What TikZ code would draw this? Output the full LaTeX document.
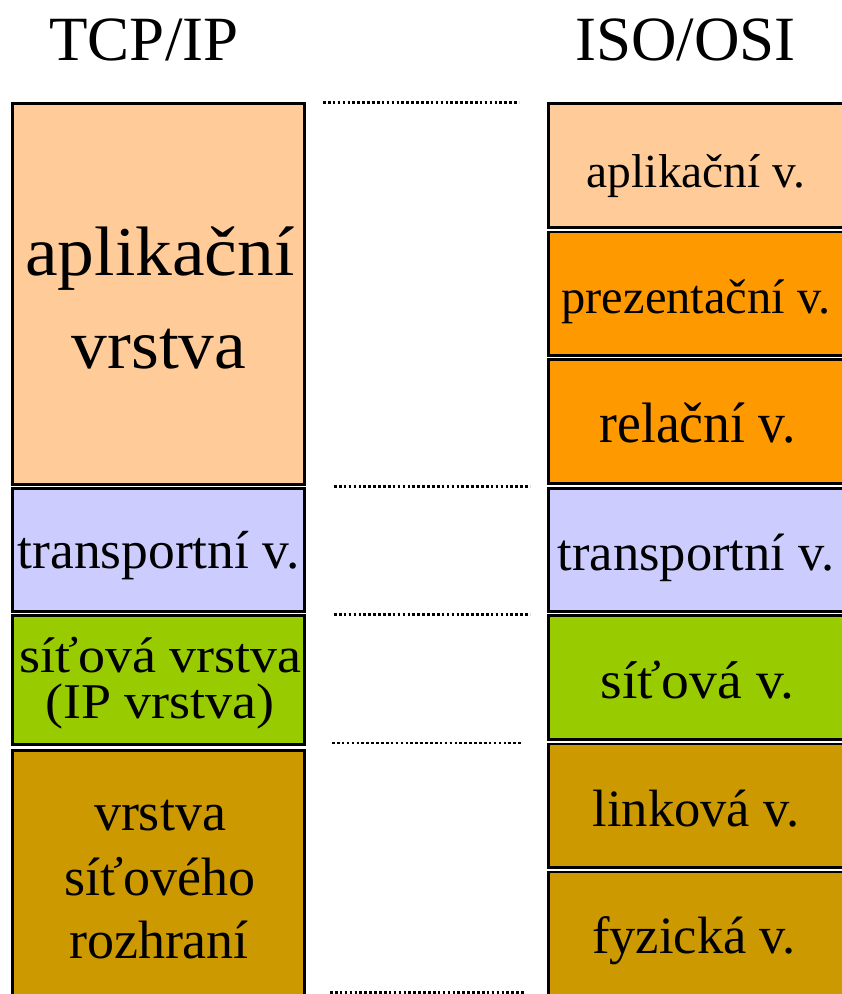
\documentclass[tikz,border=0pt]{standalone}
\usepackage{fontspec}
\setmainfont{Liberation Serif}
\usepackage{graphicx}
\definecolor{lorange}{HTML}{FFCC99}
\definecolor{dorange}{HTML}{FF9900}
\definecolor{lavend}{HTML}{CCCCFF}
\definecolor{lgreen}{HTML}{99CC00}
\definecolor{gold}{HTML}{CC9900}
\newcommand\lsize[1]{\fontsize{#1pt}{#1pt}\selectfont}
\tikzset{
  layer/.style={draw=black, line width=2.7pt, inner sep=0pt, outer sep=0pt},
  lbl/.style={anchor=base, inner sep=0pt, outer sep=0pt, text=black},
  sepline/.style={black, line width=2.6pt, dash pattern=on 2.6pt off 2.3pt}
}
\begin{document}
\begin{tikzpicture}[x=1pt,y=-1pt]
\useasboundingbox (0,0) rectangle (842,994);
\clip (0,0) rectangle (842,994);
% headings
\node[lbl] (hl) at (144,60) {\lsize{63}TCP/IP};
\node[lbl] (hr) at (685.5,60) {\lsize{63}ISO/OSI};
% left column (TCP/IP)
\node[layer, fill=lorange, minimum width=292.3pt, minimum height=381.3pt] (L1) at (158.5,294) {};
\node[layer, fill=lavend, minimum width=292.3pt, minimum height=122.8pt] (L2) at (158.5,549.75) {};
\node[layer, fill=lgreen, minimum width=292.3pt, minimum height=129.3pt] (L3) at (158.5,680) {};
\node[layer, fill=gold, minimum width=292.3pt, minimum height=260.3pt] (L4) at (158.5,880.5) {};
% right column (ISO/OSI)
\node[layer, fill=lorange, minimum width=300.3pt, minimum height=124.3pt] (R1) at (698.5,165.5) {};
\node[layer, fill=dorange, minimum width=300.3pt, minimum height=123.3pt] (R2) at (698.5,293.5) {};
\node[layer, fill=dorange, minimum width=300.3pt, minimum height=124.3pt] (R3) at (698.5,421.5) {};
\node[layer, fill=lavend, minimum width=300.3pt, minimum height=122.8pt] (R4) at (698.5,549.75) {};
\node[layer, fill=lgreen, minimum width=300.3pt, minimum height=124.3pt] (R5) at (698.5,677.5) {};
\node[layer, fill=gold, minimum width=300.3pt, minimum height=123.8pt] (R6) at (698.5,805.75) {};
\node[layer, fill=gold, minimum width=300.3pt, minimum height=138.8pt] (R7) at (698.5,941.25) {};
% left labels
\node[lbl] (L1a) at (160,275) {\lsize{70}\scalebox{1.05}[1]{aplikační}};
\node[lbl] (L1b) at (159,368) {\lsize{70}\scalebox{1.02}[1]{vrstva}};
\node[lbl] (L2a) at (158.5,568) {\lsize{53.5}transportní v.};
\node[lbl] (L3a) at (160.5,672) {\lsize{50}\scalebox{1.08}[1]{síťová vrstva}};
\node[lbl] (L3b) at (160,718) {\lsize{50}\scalebox{1.08}[1]{(IP vrstva)}};
\node[lbl] (L4a) at (160,830) {\lsize{54}vrstva};
\node[lbl] (L4b) at (160,895) {\lsize{54}síťového};
\node[lbl] (L4c) at (159,958) {\lsize{54}rozhraní};
% right labels
\node[lbl] (R1a) at (696,187) {\lsize{47.5}aplikační v.};
\node[lbl] (R2a) at (696,313) {\lsize{48.5}prezentační v.};
\node[lbl] (R3a) at (697.5,442) {\lsize{57}\scalebox{0.94}[1]{relační v.}};
\node[lbl] (R4a) at (696,570) {\lsize{52.5}transportní v.};
\node[lbl] (R5a) at (697.5,698) {\lsize{53}\scalebox{1.05}[1]{síťová v.}};
\node[lbl] (R6a) at (696,826) {\lsize{52.5}linková v.};
\node[lbl] (R7a) at (694,953) {\lsize{52.5}fyzická v.};
% dotted correspondence lines
\coordinate (d1a) at (323,102.7); \coordinate (d1b) at (519,102.7);
\coordinate (d2a) at (334,486.7); \coordinate (d2b) at (530,486.7);
\coordinate (d3a) at (334,614.3); \coordinate (d3b) at (530,614.3);
\coordinate (d4a) at (332,743);   \coordinate (d4b) at (521,743);
\coordinate (d5a) at (330,992.5); \coordinate (d5b) at (525,992.5);
\draw[sepline] (d1a) -- (d1b);
\draw[sepline] (d2a) -- (d2b);
\draw[sepline] (d3a) -- (d3b);
\draw[sepline] (d4a) -- (d4b);
\draw[sepline] (d5a) -- (d5b);
\end{tikzpicture}
\end{document}
